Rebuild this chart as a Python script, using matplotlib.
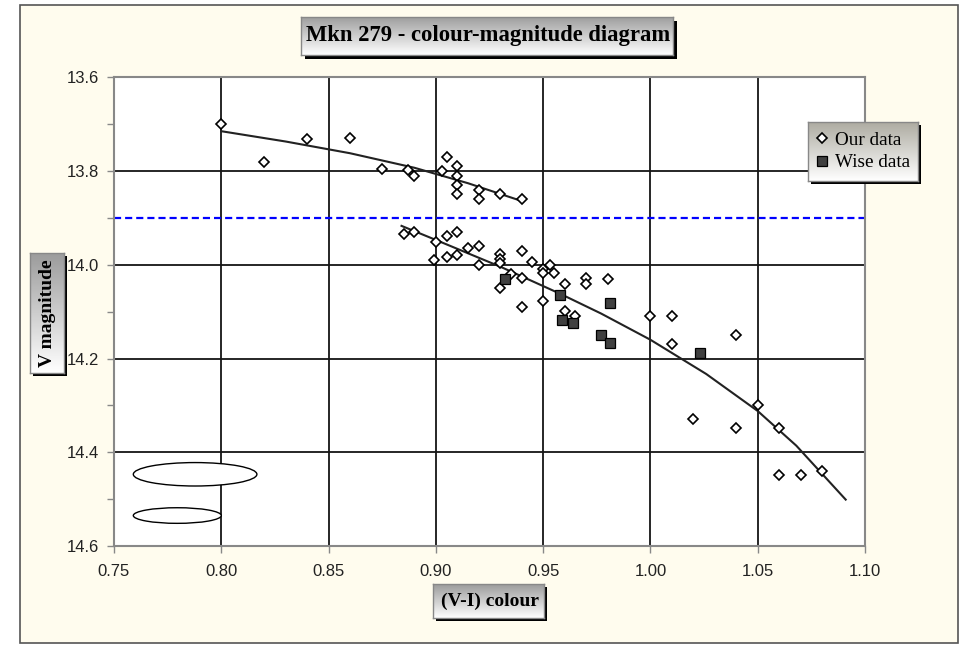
import numpy as np
import matplotlib
matplotlib.use("Agg")
import matplotlib.pyplot as plt
from matplotlib.patches import Rectangle, Ellipse
from matplotlib.ticker import MultipleLocator, FormatStrFormatter

# ---------------- data ----------------
our_x = [0.800, 0.820, 0.840, 0.860, 0.875, 0.887, 0.890, 0.903, 0.905, 0.910,
         0.910, 0.910, 0.910, 0.920, 0.920, 0.930, 0.940,
         0.885, 0.890, 0.900, 0.899, 0.905, 0.905, 0.910, 0.910, 0.915, 0.920,
         0.920, 0.930, 0.930, 0.930, 0.930, 0.935, 0.940, 0.940, 0.940, 0.945,
         0.950, 0.950, 0.950, 0.953, 0.955, 0.960, 0.960, 0.965, 0.970, 0.970,
         0.980, 1.000, 1.010, 1.010, 1.040, 1.020, 1.040, 1.050, 1.060, 1.060,
         1.070, 1.080]
our_y = [13.700, 13.780, 13.731, 13.730, 13.796, 13.797, 13.810, 13.800, 13.771, 13.790,
         13.810, 13.830, 13.850, 13.840, 13.860, 13.850, 13.860,
         13.935, 13.930, 13.951, 13.990, 13.939, 13.984, 13.930, 13.979, 13.964, 13.959,
         14.000, 13.977, 13.987, 13.997, 14.050, 14.020, 13.970, 14.029, 14.090, 13.994,
         14.008, 14.018, 14.077, 14.000, 14.018, 14.040, 14.098, 14.110, 14.029, 14.040,
         14.030, 14.110, 14.110, 14.169, 14.149, 14.329, 14.349, 14.299, 14.349, 14.448,
         14.448, 14.439]

wise_x = [0.932, 0.958, 0.959, 0.964, 0.977, 0.981, 0.981, 1.023]
wise_y = [14.031, 14.064, 14.117, 14.125, 14.149, 14.166, 14.082, 14.189]

trend_upper_x = [0.800, 0.830, 0.860, 0.890, 0.915, 0.940]
trend_upper_y = [13.715, 13.737, 13.762, 13.793, 13.826, 13.864]

trend_lower_x = [0.884, 0.900, 0.930, 0.958, 0.977, 1.000, 1.026, 1.050, 1.068, 1.091]
trend_lower_y = [13.917, 13.947, 14.004, 14.062, 14.104, 14.160, 14.233, 14.312, 14.386, 14.501]

ref_level = 13.9

title = "Mkn 279 - colour-magnitude diagram"
xlabel = "(V-I) colour"
ylabel = "V magnitude"
series_labels = ["Our data", "Wise data"]

# ---------------- layout helpers ----------------
W, H = 967, 663
fig = plt.figure(figsize=(W / 100, H / 100), dpi=100)
fig.patch.set_facecolor("white")

def fx(px):
    return px / W

def fy(py):
    return 1 - py / H

def rect_fig(x0, y0, x1, y1):
    return [fx(x0), fy(y1), (x1 - x0) / W, (y1 - y0) / H]

CREAM = "#FFFCEE"
frame = Rectangle((fx(19.5), fy(642.5)), (957.5 - 19.5) / W, (642.5 - 4.5) / H,
                  transform=fig.transFigure, facecolor=CREAM, edgecolor="#555555",
                  lw=1.2, zorder=0)
fig.patches.append(frame)

def grad_box(x0, y0, x1, y1, top="#9c9c9c", bottom="#ffffff", z=4, shadow=4):
    sh = Rectangle((fx(x0 + shadow), fy(y1 + shadow)), (x1 - x0) / W, (y1 - y0) / H,
                   transform=fig.transFigure, facecolor="black", edgecolor="none",
                   zorder=z - 0.5)
    fig.patches.append(sh)
    bax = fig.add_axes(rect_fig(x0, y0, x1, y1), zorder=z)
    c0 = np.array(matplotlib.colors.to_rgb(top))
    c1 = np.array(matplotlib.colors.to_rgb(bottom))
    t = np.linspace(0, 1, 64)[:, None]
    img = (c0[None, :] * (1 - t) + c1[None, :] * t)[:, None, :]
    bax.imshow(img, aspect="auto", extent=[0, 1, 0, 1], origin="upper")
    bax.set_xlim(0, 1)
    bax.set_ylim(0, 1)
    bax.set_xticks([])
    bax.set_yticks([])
    for s in bax.spines.values():
        s.set_color("#888888")
        s.set_linewidth(1.0)
    return bax

# ---------------- main axes ----------------
ax = fig.add_axes(rect_fig(114, 77.3, 865, 546), zorder=1)
ax.set_facecolor("white")
ax.set_xlim(0.75, 1.10)
ax.set_ylim(14.6, 13.6)
ax.xaxis.set_major_locator(MultipleLocator(0.05))
ax.yaxis.set_major_locator(MultipleLocator(0.2))
ax.yaxis.set_minor_locator(MultipleLocator(0.1))
ax.xaxis.set_major_formatter(FormatStrFormatter("%.2f"))
ax.yaxis.set_major_formatter(FormatStrFormatter("%.1f"))
ax.set_axisbelow(True)
ax.grid(True, which="major", color="#151515", lw=1.3)
for s in ax.spines.values():
    s.set_color("#888888")
    s.set_linewidth(1.5)
ax.tick_params(which="both", direction="out", length=5, width=1, color="#888888")
ax.tick_params(axis="x", pad=8, labelsize=12, labelcolor="#222222")
ax.tick_params(axis="y", pad=6, labelsize=12, labelcolor="#222222")
for lab in ax.get_xticklabels() + ax.get_yticklabels():
    lab.set_family("Liberation Sans")

ax.axhline(ref_level, color="#0000FF", lw=1.6, ls=(0, (3.2, 1.8)), zorder=2)

ax.plot(trend_upper_x, trend_upper_y, color="#222222", lw=1.5, zorder=3)
ax.plot(trend_lower_x, trend_lower_y, color="#222222", lw=1.5, zorder=3)

h_our, = ax.plot(our_x, our_y, ls="none", marker="D", ms=4.8, mfc="white",
                 mec="black", mew=1.2, zorder=4, label=series_labels[0])
h_wise, = ax.plot(wise_x, wise_y, ls="none", marker="s", ms=6.6, mfc="#404040",
                  mec="black", mew=0.9, zorder=5, label=series_labels[1])

ax.add_patch(Ellipse((0.7878, 14.447), 0.0576, 0.050, facecolor="white",
                     edgecolor="black", lw=1.0, zorder=3))
ax.add_patch(Ellipse((0.7795, 14.535), 0.041, 0.0333, facecolor="white",
                     edgecolor="black", lw=1.0, zorder=3))

# ---------------- title box ----------------
grad_box(301, 16.7, 673, 55)
fig.text(fx(488), fy(36), title, ha="center", va="center",
         family="Liberation Serif", weight="bold", fontsize=16.3,
         color="black", zorder=10)

# ---------------- x label box ----------------
grad_box(433.3, 584.3, 544.3, 618.3, shadow=3)
fig.text(fx(490), fy(601.5), xlabel, ha="center", va="center",
         family="Liberation Serif", weight="bold", fontsize=14,
         color="black", zorder=10)

# ---------------- y label box ----------------
grad_box(30, 252.7, 64.3, 372.7, shadow=3)
fig.text(fx(47.5), fy(312.7), ylabel, ha="center", va="center", rotation=90,
         family="Liberation Serif", weight="bold", fontsize=14,
         color="black", zorder=10)

# ---------------- legend box ----------------
lax = grad_box(808, 122.3, 917.7, 180.7, top="#aeaca2", bottom="#ffffff", z=6, shadow=3)
leg = lax.legend([h_our, h_wise], series_labels, loc="center", frameon=False,
                 prop={"family": "Liberation Serif", "size": 13.8},
                 handlelength=0.7, handletextpad=0.35, labelspacing=0.25,
                 borderpad=0.0, borderaxespad=0.0)

fig.savefig("out.png", dpi=100)
